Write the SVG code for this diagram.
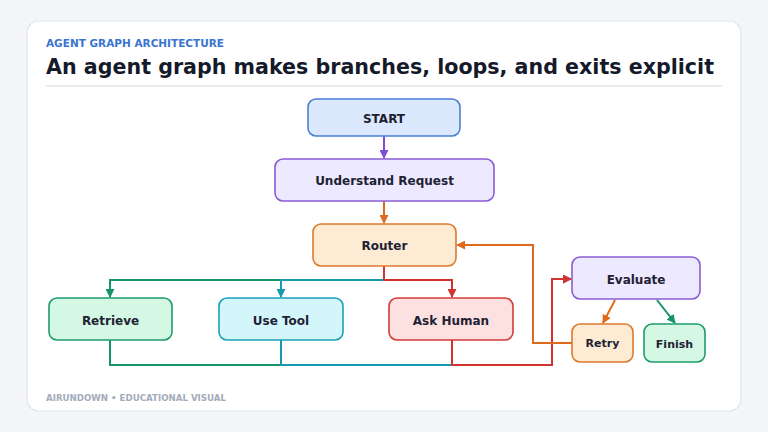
<svg xmlns="http://www.w3.org/2000/svg" width="768" height="432" viewBox="0 0 768 432">
<defs>
<style>
.nt{font-family:"DejaVu Sans","Liberation Sans",sans-serif;font-weight:bold;font-size:12px;fill:#1e2233;text-anchor:middle;dominant-baseline:central}
.box{stroke-width:1.6}
.c{fill:none;stroke-width:2}
</style>
<marker id="aP" viewBox="0 0 10 10" refX="9" refY="5" markerWidth="9" markerHeight="9" markerUnits="userSpaceOnUse" orient="auto"><path d="M0,0L10,5L0,10z" fill="#7c4ddb"/></marker>
<marker id="aO" viewBox="0 0 10 10" refX="9" refY="5" markerWidth="9" markerHeight="9" markerUnits="userSpaceOnUse" orient="auto"><path d="M0,0L10,5L0,10z" fill="#e06a1c"/></marker>
<marker id="aG" viewBox="0 0 10 10" refX="9" refY="5" markerWidth="9" markerHeight="9" markerUnits="userSpaceOnUse" orient="auto"><path d="M0,0L10,5L0,10z" fill="#159469"/></marker>
<marker id="aT" viewBox="0 0 10 10" refX="9" refY="5" markerWidth="9" markerHeight="9" markerUnits="userSpaceOnUse" orient="auto"><path d="M0,0L10,5L0,10z" fill="#1799b0"/></marker>
<marker id="aR" viewBox="0 0 10 10" refX="9" refY="5" markerWidth="9" markerHeight="9" markerUnits="userSpaceOnUse" orient="auto"><path d="M0,0L10,5L0,10z" fill="#d33232"/></marker>
</defs>
<rect width="768" height="432" fill="#f3f5f8"/>
<rect x="27" y="21" width="714" height="390" rx="12" fill="#ffffff" stroke="#e0e4ea" stroke-width="1.2"/>
<text x="46" y="47" font-family="DejaVu Sans Condensed,DejaVu Sans,sans-serif" font-weight="bold" font-size="11" fill="#3a74d0" textLength="178" lengthAdjust="spacingAndGlyphs">AGENT GRAPH ARCHITECTURE</text>
<text x="46" y="74" font-family="DejaVu Sans Condensed,DejaVu Sans,sans-serif" font-weight="bold" font-size="22" fill="#151a2b" textLength="668" lengthAdjust="spacingAndGlyphs">An agent graph makes branches, loops, and exits explicit</text>
<line x1="46" y1="86" x2="722" y2="86" stroke="#e3e6eb" stroke-width="1.5"/>

<g id="connectors">
<path class="c" stroke="#7c4ddb" d="M384,136V158" marker-end="url(#aP)"/>
<path class="c" stroke="#e06a1c" d="M384,201V223" marker-end="url(#aO)"/>
<path class="c" stroke="#159469" d="M384,266V280H110V297" marker-end="url(#aG)"/>
<path class="c" stroke="#1799b0" d="M384,280H281V297" marker-end="url(#aT)"/>
<path class="c" stroke="#d33232" d="M384,266V280H452V297" marker-end="url(#aR)"/>
<path class="c" stroke="#159469" d="M110,340V365H552V279H571" marker-end="url(#aG)"/>
<path class="c" stroke="#1799b0" d="M281,340V365H552"/>
<path class="c" stroke="#d33232" d="M452,340V365H552V279H571" marker-end="url(#aR)"/>
<path class="c" stroke="#e06a1c" d="M572,343H533V245H457" marker-end="url(#aO)"/>
<path class="c" stroke="#e06a1c" d="M615,300L603,323" marker-end="url(#aO)"/>
<path class="c" stroke="#159469" d="M657,300L675,323" marker-end="url(#aG)"/>
</g>

<g id="start"><rect class="box" x="308" y="99" width="152" height="37" rx="8" fill="#dbe8fd" stroke="#4a7fd4"/><text class="nt" x="384" y="119">START</text></g>
<g id="understand"><rect class="box" x="275" y="159" width="219" height="42" rx="8" fill="#ede9fe" stroke="#8b5cd6"/><text class="nt" x="384.5" y="181">Understand Request</text></g>
<g id="router"><rect class="box" x="313" y="224" width="143" height="42" rx="8" fill="#fdebd3" stroke="#dd7a2c"/><text class="nt" x="384.5" y="246">Router</text></g>
<g id="retrieve"><rect class="box" x="49" y="298" width="123" height="42" rx="8" fill="#d5f8e5" stroke="#1e9c6c"/><text class="nt" x="110.5" y="321">Retrieve</text></g>
<g id="usetool"><rect class="box" x="219" y="298" width="124" height="42" rx="8" fill="#d3f6fb" stroke="#1ba0b6"/><text class="nt" x="281" y="321">Use Tool</text></g>
<g id="askhuman"><rect class="box" x="389" y="298" width="124" height="42" rx="8" fill="#fde0e0" stroke="#d33a3a"/><text class="nt" x="451" y="321">Ask Human</text></g>
<g id="evaluate"><rect class="box" x="572" y="257" width="128" height="42" rx="8" fill="#ede9fe" stroke="#8b5cd6"/><text class="nt" x="636" y="280">Evaluate</text></g>
<g id="retry"><rect class="box" x="572" y="324" width="61" height="38" rx="8" fill="#fdebd3" stroke="#dd7a2c"/><text class="nt" x="602.5" y="343.5" style="font-size:11px">Retry</text></g>
<g id="finish"><rect class="box" x="644" y="324" width="61" height="38" rx="8" fill="#d5f8e5" stroke="#1e9c6c"/><text class="nt" x="674.5" y="344.5" style="font-size:11px">Finish</text></g>

<text x="46" y="401" font-family="DejaVu Sans,sans-serif" font-weight="bold" font-size="9" fill="#a3abba" textLength="180" lengthAdjust="spacingAndGlyphs">AIRUNDOWN • EDUCATIONAL VISUAL</text>
</svg>
